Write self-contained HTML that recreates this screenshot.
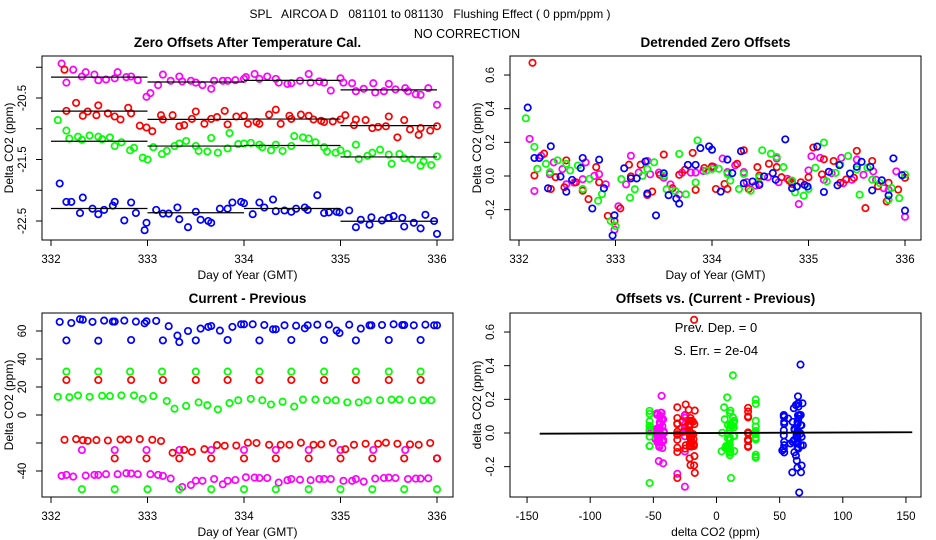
<!DOCTYPE html>
<html><head><meta charset="utf-8"><style>
body{margin:0;background:#fff;}
svg{display:block;font-family:"Liberation Sans",sans-serif;}
</style></head><body>
<svg id="c" width="936" height="540" viewBox="0 0 936 540">
<text x="430" y="18" font-size="12" text-anchor="middle" xml:space="preserve">SPL   AIRCOA D   081101 to 081130   Flushing Effect ( 0 ppm/ppm )</text>
<text x="467" y="38" font-size="12.5" text-anchor="middle">NO CORRECTION</text>
</svg>
<script>
// ---- data: panel 1 (zero offsets), days and values per series ----
const magDays=[332.11,332.16,332.23,332.32,332.36,332.45,332.49,332.57,332.66,332.69,332.78,332.83,332.90,332.99,333.03,333.11,333.16,333.24,333.33,333.36,333.45,333.50,333.57,333.66,333.69,333.78,333.83,333.91,334.00,334.02,334.11,334.16,334.24,334.33,334.36,334.45,334.49,334.58,334.67,334.69,334.78,334.83,334.90,335.00,335.03,335.12,335.16,335.24,335.34,335.36,335.45,335.50,335.57,335.67,335.70,335.78,335.83,335.91,336.00];
const magVals=[-19.94,-20.25,-20.04,-20.15,-20.08,-20.12,-20.21,-20.20,-20.18,-20.08,-20.16,-20.15,-20.21,-20.48,-20.42,-20.29,-20.12,-20.22,-20.15,-20.23,-20.22,-20.25,-20.29,-20.35,-20.22,-20.22,-20.22,-20.21,-20.19,-20.16,-20.11,-20.19,-20.15,-20.19,-20.25,-20.27,-20.26,-20.22,-20.11,-20.25,-20.23,-20.25,-20.38,-20.18,-20.25,-20.26,-20.39,-20.35,-20.26,-20.41,-20.39,-20.27,-20.36,-20.34,-20.39,-20.44,-20.45,-20.34,-20.61];
const redDays=[332.14,332.16,332.26,332.33,332.38,332.47,332.49,332.59,332.66,332.72,332.80,332.83,332.92,332.99,333.05,333.14,333.16,333.26,333.33,333.38,333.46,333.50,333.59,333.66,333.72,333.80,333.83,333.92,334.00,334.04,334.13,334.16,334.26,334.33,334.38,334.47,334.49,334.59,334.67,334.72,334.80,334.83,334.92,335.00,335.05,335.14,335.16,335.26,335.33,335.39,335.47,335.50,335.59,335.66,335.72,335.81,335.83,335.93,336.00];
const redVals=[-20.04,-20.71,-20.58,-20.79,-20.72,-20.78,-20.62,-20.75,-20.80,-20.85,-20.66,-20.75,-20.95,-20.98,-21.04,-20.78,-20.85,-20.78,-20.96,-20.94,-20.84,-20.72,-20.92,-20.84,-20.81,-20.71,-20.93,-20.80,-20.79,-20.92,-20.89,-20.92,-20.77,-20.69,-20.92,-20.79,-20.84,-20.77,-20.79,-20.85,-20.87,-20.89,-20.88,-20.85,-20.78,-20.94,-20.85,-20.86,-20.99,-20.97,-20.96,-20.80,-21.14,-20.86,-21.01,-21.10,-20.99,-21.03,-20.96];
const grnDays=[332.07,332.16,332.19,332.28,332.32,332.40,332.49,332.53,332.61,332.66,332.73,332.82,332.86,332.95,333.00,333.06,333.15,333.20,333.28,333.33,333.40,333.50,333.53,333.62,333.66,333.73,333.83,333.85,333.94,334.00,334.07,334.16,334.19,334.28,334.33,334.40,334.49,334.52,334.61,334.67,334.74,334.83,334.86,334.95,335.00,335.07,335.16,335.19,335.28,335.33,335.41,335.50,335.53,335.61,335.66,335.74,335.83,335.86,335.94,336.00];
const grnVals=[-20.86,-21.03,-21.16,-21.13,-21.18,-21.11,-21.13,-21.17,-21.14,-21.28,-21.22,-21.35,-21.31,-21.47,-21.50,-21.30,-21.41,-21.36,-21.28,-21.24,-21.20,-21.28,-21.36,-21.37,-21.15,-21.39,-21.32,-21.07,-21.25,-21.24,-21.23,-21.26,-21.30,-21.35,-21.26,-21.36,-21.28,-21.12,-21.14,-21.16,-21.22,-21.30,-21.37,-21.39,-21.35,-21.41,-21.26,-21.49,-21.44,-21.39,-21.34,-21.42,-21.57,-21.41,-21.48,-21.50,-21.60,-21.53,-21.59,-21.45];
const bluDays=[332.09,332.16,332.21,332.30,332.33,332.43,332.49,332.55,332.64,332.66,332.76,332.83,332.88,332.97,332.99,333.09,333.16,333.22,333.31,333.33,333.42,333.50,333.55,333.63,333.66,333.75,333.83,333.88,333.97,334.00,334.09,334.16,334.21,334.30,334.33,334.42,334.49,334.54,334.63,334.66,334.76,334.83,334.88,334.96,334.99,335.09,335.16,335.21,335.30,335.32,335.43,335.50,335.55,335.64,335.66,335.76,335.83,335.88,335.97,336.00];
const bluVals=[-21.89,-22.19,-22.19,-22.37,-22.12,-22.30,-22.39,-22.32,-22.25,-22.19,-22.49,-22.20,-22.37,-22.65,-22.53,-22.32,-22.38,-22.38,-22.28,-22.47,-22.60,-22.35,-22.48,-22.50,-22.53,-22.30,-22.30,-22.20,-22.19,-22.21,-22.39,-22.20,-22.28,-22.15,-22.34,-22.33,-22.35,-22.30,-22.28,-22.32,-22.08,-22.37,-22.36,-22.35,-22.36,-22.33,-22.60,-22.48,-22.56,-22.44,-22.49,-22.45,-22.42,-22.45,-22.59,-22.53,-22.62,-22.40,-22.50,-22.71];
// ---- data: panel 3 (current - previous), aligned with the days above ----
const magDiff=[-43.5,-42.8,-44,-25,-43.3,-42.8,-42.8,-42.3,-25,-42.3,-41.6,-41.8,-42.3,-25,-42.3,-42.8,-43.5,-45.4,-25,-51.4,-50,-46.9,-47,-25,-45.7,-49.5,-47,-46.4,-25,-44.5,-44.7,-45,-45,-25,-48.3,-46.6,-45.7,-46.2,-25,-46.6,-45.7,-45.7,-45.7,-25,-47,-47,-45.7,-47.6,-25,-45.4,-45,-44.7,-45,-25,-45.7,-45.4,-45.4,-45.2,-31];
const redDiff=[-17.7,25,-17.2,-18,-18.4,-17.9,25,-18.2,-31,-17.5,-17.5,25,-17.2,-31,-17.7,-18.6,25,-27,-31,-24.9,-26.3,25,-24.4,-31,-21.5,-22,25,-21.8,-31,-19.8,-20,25,-21.3,-31,-21.3,-21.3,25,-19.8,-31,-21.3,-21,25,-20,-31,-24.4,-21.3,25,-20.6,-31,-20.6,-19.8,25,-20.6,-31,-21,-21.3,25,-20,-31];
const grnDiff=[13,31,12.7,14,-53,13,31,13.7,13.5,-53,14,31,14,11.5,-53,13.5,31,10,4.5,-53,6.5,31,9,7,-53,4,31,8.5,10.5,-53,11.5,31,10.5,7.5,-53,9.5,31,6,11,-53,11,31,10.5,10.5,-53,9,31,9,10.5,-53,10.5,31,11,11,-53,10.5,31,10.5,10.5,-53];
const bluDiff=[66.5,53.3,65.7,68.4,68.1,66.5,53.1,67.4,66.7,66.7,67.4,53.6,66.7,65.5,66.9,67.2,53.3,63.4,56.7,52.1,60,53.3,61.7,62.9,63.6,60.3,53.6,62.9,64.8,64.8,64.8,53.3,64.3,61.2,61.2,64.1,53.6,63.8,61.9,64.1,64.5,53.6,64.5,60.3,58.6,64.5,53.3,61.7,64.1,64.1,64.3,53.6,64.8,64.3,64.3,64.1,53.6,64.5,64.1,64.1];
// ---- axis tick labels ----
const dayTicks=[332,333,334,335,336];
const p1Ticks=[-20,-20.5,-21,-21.5,-22,-22.5];
const p1Labels=["","-20.5","","-21.5","","-22.5"];
const p2Ticks=[-0.2,0,0.2,0.4,0.6];
const p2Labels=["-0.2","0.0","0.2","0.4","0.6"];
const p3Ticks=[-40,-20,0,20,40,60];
const p3Labels=["-40","","0","20","40","60"];
const p4XTicks=[-150,-100,-50,0,50,100,150];
const p4XLabels=["-150","-100","-50","0","50","100","150"];
const regIntercept=0;
const regSlope=0.00003;
const regRange=[-140,155];

const series=[
 {name:'magenta',color:'#ff00ff',days:magDays,vals:magVals,diff:magDiff},
 {name:'red',color:'#ff0000',days:redDays,vals:redVals,diff:redDiff},
 {name:'green',color:'#00ff00',days:grnDays,vals:grnVals,diff:grnDiff},
 {name:'blue',color:'#0000ff',days:bluDays,vals:bluVals,diff:bluDiff}
];
const NS='http://www.w3.org/2000/svg';
const svg=document.getElementById('c');
function mk(tag,attrs,parent){const e=document.createElementNS(NS,tag);for(const k in attrs)e.setAttribute(k,attrs[k]);(parent||svg).appendChild(e);return e;}
function seg(d){return Math.max(0,Math.min(3,Math.floor(d-332-0.01)));}
series.forEach(s=>{
 const sum=[0,0,0,0],cnt=[0,0,0,0];
 s.days.forEach((d,i)=>{const k=seg(d);sum[k]+=s.vals[i];cnt[k]++;});
 s.means=sum.map((v,k)=>cnt[k]?v/cnt[k]:0);
 s.det=s.vals.map((v,i)=>v-s.means[seg(s.days[i])]);
});

function panel(o){
 const g=mk('g',{});
 
 
 const t=mk('text',{x:(o.L+o.R)/2,y:o.titleY,'font-size':13.5,'font-weight':'bold','text-anchor':'middle'},g);
 t.textContent=o.title;
 
 
 const box=mk('rect',{x:o.L,y:o.T,width:o.R-o.L,height:o.B-o.T,fill:'none',stroke:'#000','stroke-width':1},g);
 
 
 o.xt.forEach((v,i)=>{
  const x=o.sx(v);
  const tk=mk('line',{x1:x,x2:x,y1:o.B,y2:o.B+6,stroke:'#000'},g);
  
  
  const lb=mk('text',{x:x,y:o.B+23,'font-size':11.5,'text-anchor':'middle'},g);
  lb.textContent=o.xl[i];
  
  
 });
 o.yt.forEach((v,i)=>{
  const y=o.sy(v);
  const tk=mk('line',{x1:o.L-6,x2:o.L,y1:y,y2:y,stroke:'#000'},g);
  
  
  if(o.yl[i]){
   const lx=o.L-16;
   const lb=mk('text',{x:lx,y:y,'font-size':11.5,'text-anchor':'middle',transform:`rotate(-90 ${lx} ${y})`},g);
   lb.textContent=o.yl[i];
   
   
  }
 });
 const xt=mk('text',{x:(o.L+o.R)/2,y:o.B+39,'font-size':12,'text-anchor':'middle'},g);
 xt.textContent=o.xTitle;
 
 
 const yx=o.L-29,yy=(o.T+o.B)/2;
 const yt=mk('text',{x:yx,y:yy,'font-size':12,'text-anchor':'middle',transform:`rotate(-90 ${yx} ${yy})`},g);
 yt.textContent=o.yTitle;
 
 
 return g;
}
function pt(g,x,y,color,nm){
 const c=mk('circle',{cx:x.toFixed(1),cy:y.toFixed(1),r:3.2,fill:'none',stroke:color,'stroke-width':1.7},g);
 
 
}
const dx1=d=>51+(d-332)*96.5;
const dx2=d=>519+(d-332)*96.5;
const p1={name:'zero-offsets-panel',title:'Zero Offsets After Temperature Cal.',titleY:47,L:42,R:453,T:56,B:240,
 sx:dx1,sy:v=>98+(-20.5-v)*61.5,xt:dayTicks,xl:dayTicks.map(String),yt:p1Ticks,yl:p1Labels,xTitle:'Day of Year (GMT)',yTitle:'Delta CO2 (ppm)'};
const g1=panel(p1);
series.forEach(s=>{
 s.days.forEach((d,i)=>pt(g1,p1.sx(d),p1.sy(s.vals[i]),s.color,s.name+'-offset-point'));
 s.means.forEach((m,k)=>{
  const l=mk('line',{x1:p1.sx(332+k),x2:p1.sx(333+k),y1:p1.sy(m),y2:p1.sy(m),stroke:'#000','stroke-width':1.2},g1);
  
  
 });
});
const p2={name:'detrended-panel',title:'Detrended Zero Offsets',titleY:47,L:510,R:921,T:56,B:240,
 sx:dx2,sy:v=>176-v*168.3,xt:dayTicks,xl:dayTicks.map(String),yt:p2Ticks,yl:p2Labels,xTitle:'Day of Year (GMT)',yTitle:'Delta CO2 (ppm)'};
const g2=panel(p2);
series.forEach(s=>s.days.forEach((d,i)=>pt(g2,p2.sx(d),p2.sy(s.det[i]),s.color,s.name+'-detrended-point')));
const p3={name:'current-previous-panel',title:'Current - Previous',titleY:303,L:42,R:453,T:313,B:497,
 sx:dx1,sy:v=>415-v*1.4,xt:dayTicks,xl:dayTicks.map(String),yt:p3Ticks,yl:p3Labels,xTitle:'Day of Year (GMT)',yTitle:'Delta CO2 (ppm)'};
const g3=panel(p3);
series.forEach(s=>s.days.forEach((d,i)=>{if(s.diff[i]!==undefined)pt(g3,p3.sx(d),p3.sy(s.diff[i]),s.color,s.name+'-difference-point');}));
const p4={name:'offsets-vs-difference-panel',title:'Offsets vs. (Current - Previous)',titleY:303,L:510,R:921,T:313,B:497,
 sx:v=>716.5+v*1.263,sy:v=>433-v*168.3,xt:p4XTicks,xl:p4XLabels,yt:p2Ticks,yl:p2Labels,xTitle:'delta CO2 (ppm)',yTitle:'delta CO2 (ppm)'};
const g4=panel(p4);
series.forEach(s=>s.days.forEach((d,i)=>{if(s.diff[i]!==undefined)pt(g4,p4.sx(s.diff[i]),p4.sy(s.det[i]),s.color,s.name+'-scatter-point');}));
const rl=mk('line',{x1:p4.sx(regRange[0]),x2:p4.sx(regRange[1]),y1:p4.sy(regIntercept+regSlope*regRange[0]),y2:p4.sy(regIntercept+regSlope*regRange[1]),stroke:'#000','stroke-width':1.8},g4);


const a1=mk('text',{x:716,y:332,'font-size':13,'text-anchor':'middle','xml:space':'preserve'},g4);
a1.textContent='Prev. Dep. =  0';


const a2=mk('text',{x:716,y:355,'font-size':13,'text-anchor':'middle','xml:space':'preserve'},g4);
a2.textContent='S. Err. =  2e-04';


</script>
</body></html>
